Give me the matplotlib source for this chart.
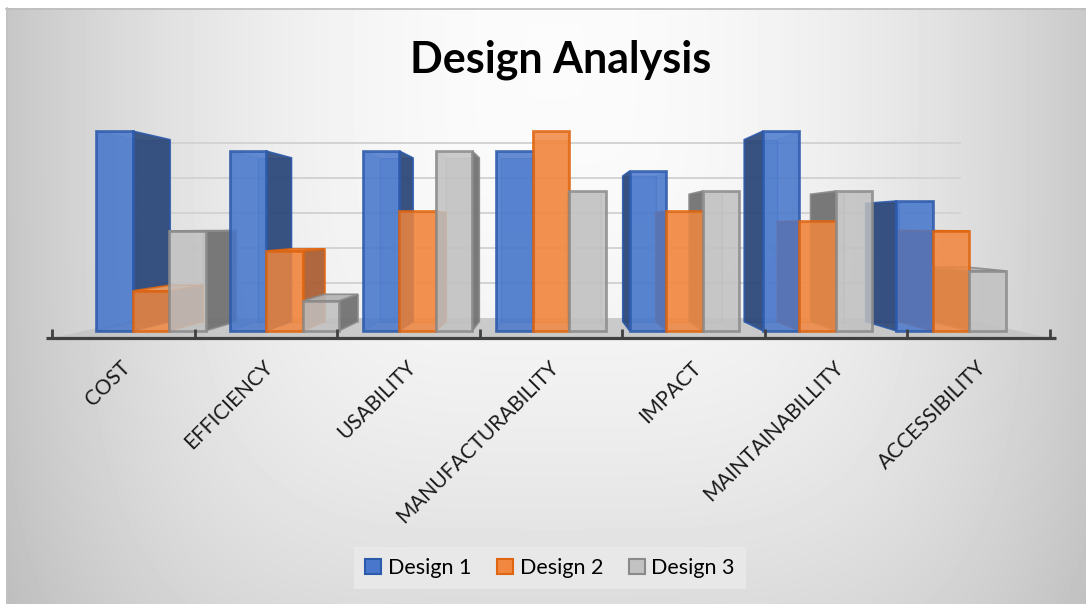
import matplotlib
matplotlib.use("Agg")
import matplotlib.pyplot as plt
import numpy as np
from matplotlib.patches import Polygon, Patch

# scores per category (0-10 scale)
categories = ["COST", "EFFICIENCY", "USABILITY", "MANUFACTURABILITY",
              "IMPACT", "MAINTAINABILLITY", "ACCESSIBILITY"]
series_names = ["Design 1", "Design 2", "Design 3"]
design1 = [10, 9, 9, 9, 8, 10, 6.5]
design2 = [2, 4, 6, 10, 6, 5.5, 5]
design3 = [5, 1.5, 9, 7, 7, 7, 3]
gridline_values = [2, 4, 6, 8, 10]
y_max = 10

W, H = 1086, 604
FONT = ["Lato", "DejaVu Sans"]

STYLES = [
    dict(front="#4877cb", side="#2b4677", top="#5e8ad6", edge="#2c5aab"),
    dict(front="#f2873f", side="#a75d33", top="#f69e5f", edge="#df6510"),
    dict(front="#c2c2c2", side="#6e6e6e", top="#b4b4b4", edge="#8a8a8a"),
]

# fake perspective: everything shrinks toward a vanishing point with depth
VX, VY = 3.5, 5.2
F_FRONT, F_BACK, F_WALL = 0.935, 0.852, 0.82
BAR_W = 0.273


def proj(x, y, f):
    return (VX + (x - VX) * f, VY + (y - VY) * f)


def add_poly(ax, pts, fc, ec, lw, alpha, z):
    ax.add_patch(Polygon(pts, closed=True, facecolor=fc, edgecolor=ec,
                         linewidth=lw, alpha=alpha, zorder=z, clip_on=False))


def draw_box(ax, x0, x1, v, st):
    def fr(x, y):
        return proj(x, y, F_FRONT)

    def bk(x, y):
        return proj(x, y, F_BACK)

    back = [bk(x0, 0), bk(x1, 0), bk(x1, v), bk(x0, v)]
    left = [fr(x0, 0), bk(x0, 0), bk(x0, v), fr(x0, v)]
    right = [fr(x1, 0), bk(x1, 0), bk(x1, v), fr(x1, v)]
    top = [fr(x0, v), fr(x1, v), bk(x1, v), bk(x0, v)]
    front = [fr(x0, 0), fr(x1, 0), fr(x1, v), fr(x0, v)]

    add_poly(ax, back, st["front"], st["edge"], 0.8, 0.45, 3)
    # hidden faces stay light, faces turned toward the viewer are shaded
    for pts, visible in ((left, x0 > VX), (right, x1 < VX)):
        if visible:
            add_poly(ax, pts, st["side"], st["edge"], 1.2, 0.9, 4)
        else:
            add_poly(ax, pts, st["front"], st["edge"], 0.6, 0.25, 3.5)
    if v < VY:
        add_poly(ax, top, st["top"], st["edge"], 1.2, 0.9, 5)
    add_poly(ax, front, st["front"], st["edge"], 2.0, 0.84, 6)


fig = plt.figure(figsize=(W / 100, H / 100), dpi=100)

# chart-area background: soft path gradient, white at the top centre
bg = fig.add_axes([0, 0, 1, 1])
yy, xx = np.mgrid[0:H, 0:W]
dx = (xx - 555) / 545
dy = (yy - 60) / 706
d = (np.abs(dx) ** 4 + np.abs(dy) ** 4) ** 0.25
shade = np.clip(0.985 - 0.205 * d ** 2, 0.72, 1)
shade[:8, :] = 1.0
shade[:, :6] = 1.0
bg.imshow(shade, cmap="gray", vmin=0, vmax=1, extent=(0, W, H, 0),
          aspect="auto", interpolation="bilinear")
bg.plot([6, W], [8.5, 8.5], color="#bdbdbd", lw=1.2)
bg.plot([6.5, 6.5], [8, H], color="#c2c2c2", lw=1.2)
bg.set_xlim(0, W)
bg.set_ylim(H, 0)
bg.axis("off")

# plot axes: x in category units, y in score units (front plane = depth 1)
ax = fig.add_axes([52 / W, (H - 338) / H, 998 / W, 213.5 / H])
ax.set_xlim(0, len(categories))
ax.set_ylim(0, y_max)
ax.axis("off")

n = len(categories)
floor = [proj(0, 0, 1), proj(n, 0, 1), proj(n, 0, F_WALL), proj(0, 0, F_WALL)]
add_poly(ax, floor, "#c3c3c3", "none", 0, 0.85, 1)

for g in gridline_values:
    (gx0, gy), (gx1, _) = proj(0, g, F_WALL), proj(n, g, F_WALL)
    ax.plot([gx0, gx1], [gy, gy], color="#d3d3d3", lw=1.4, zorder=2,
            clip_on=False)

series = [design1, design2, design3]
for i in range(n):
    for j, vals in enumerate(series):
        xc = i + 0.5 + (j - 1) * BAR_W
        draw_box(ax, xc - BAR_W / 2, xc + BAR_W / 2, vals[i], STYLES[j])

# category axis along the front edge of the floor
ax.plot([-0.04, n + 0.04], [0, 0], color="#404040", lw=2.3, zorder=7,
        clip_on=False, solid_capstyle="butt")
for k in range(n + 1):
    ax.plot([k, k], [0, 0.4], color="#404040", lw=2.0, zorder=7,
            clip_on=False, solid_capstyle="butt")

for i, cat in enumerate(categories):
    ax.text(i + 0.5 - 0.02, -0.9, cat, rotation=45, rotation_mode="anchor",
            ha="right", va="top", fontsize=15, color="#1a1a1a", family=FONT)

fig.text(561 / W, 1 - 73 / H, "Design Analysis", ha="center", va="baseline",
         fontsize=31, fontweight="bold", color="black", family=FONT)

handles = [Patch(facecolor=st["front"], edgecolor=st["edge"], linewidth=1.5)
           for st in STYLES]
leg = fig.legend(handles, series_names, loc="center",
                 bbox_to_anchor=(550 / W, 1 - 568 / H), ncol=3,
                 frameon=True, facecolor="#e8e8e8", edgecolor="none",
                 framealpha=1, fancybox=False, handlelength=0.75,
                 handleheight=0.75, handletextpad=0.3, columnspacing=1.2,
                 borderpad=0.5, prop={"family": FONT, "size": 15.5})

fig.savefig("out.png", dpi=100)
